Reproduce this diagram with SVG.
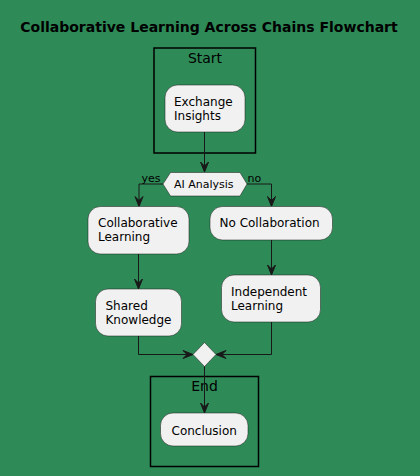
<svg xmlns="http://www.w3.org/2000/svg" width="420" height="476" viewBox="0 0 420 476">
<style>
  .node { fill: #F1F1F1; stroke: #181818; stroke-width: 0.5; }
  .part { fill: none; stroke: #000000; stroke-width: 1.5; }
  .t { font-family: "DejaVu Sans", sans-serif; font-size: 12px; fill: #000000; }
  .pl { font-family: "DejaVu Sans", sans-serif; font-size: 14px; fill: #000000; text-anchor: middle; }
  .s { font-family: "DejaVu Sans", sans-serif; font-size: 11px; fill: #000000; }
  .line { fill: none; stroke: #181818; stroke-width: 1; }
  .head { fill: #181818; stroke: #181818; stroke-width: 1; }
</style>
<rect x="0" y="0" width="420" height="476" fill="#2E8B57"/>
<text x="209" y="32" font-family="DejaVu Sans, sans-serif" font-size="14" font-weight="bold" text-anchor="middle" fill="#000000">Collaborative Learning Across Chains Flowchart</text>

<g id="partition-start">
  <rect class="part" x="154" y="48" width="101.5" height="105"/>
  <text class="pl" x="205" y="63">Start</text>
</g>
<g id="partition-end">
  <rect class="part" x="150.5" y="376.5" width="108" height="90"/>
  <text class="pl" x="204.5" y="391">End</text>
</g>

<g id="connectors">
  <path class="line" d="M204.5,132 V172"/>
  <polygon class="head" points="200.5,162 204.5,172 208.5,162 204.5,166"/>
  <path class="line" d="M163,184 H139 V206.5"/>
  <polygon class="head" points="135,196.5 139,206.5 143,196.5 139,200.5"/>
  <path class="line" d="M247,184 H271.5 V206.5"/>
  <polygon class="head" points="267.5,196.5 271.5,206.5 275.5,196.5 271.5,200.5"/>
  <path class="line" d="M138.5,254 V289"/>
  <polygon class="head" points="134.5,279 138.5,289 142.5,279 138.5,283"/>
  <path class="line" d="M271.5,240 V275"/>
  <polygon class="head" points="267.5,265 271.5,275 275.5,265 271.5,269"/>
  <path class="line" d="M138.5,336 V354.5 H193"/>
  <polygon class="head" points="183,350.5 193,354.5 183,358.5 187,354.5"/>
  <path class="line" d="M271.5,322 V354.5 H216"/>
  <polygon class="head" points="226,350.5 216,354.5 226,358.5 222,354.5"/>
  <path class="line" d="M204.5,366 V413"/>
  <polygon class="head" points="200.5,403 204.5,413 208.5,403 204.5,407"/>
  <text class="s" x="141.5" y="182">yes</text>
  <text class="s" x="247.5" y="182">no</text>
</g>

<g id="exchange-insights">
  <rect class="node" x="165" y="85" width="80" height="47" rx="12.5" ry="12.5"/>
  <text class="t" x="174" y="106">Exchange</text>
  <text class="t" x="174" y="120">Insights</text>
</g>
<g id="ai-analysis">
  <polygon class="node" points="163,184 170.5,172.5 240,172.5 247,184 240,196 170.5,196"/>
  <text class="s" x="174" y="188">AI Analysis</text>
</g>
<g id="collaborative-learning">
  <rect class="node" x="88" y="206.5" width="101" height="47.5" rx="12.5" ry="12.5"/>
  <text class="t" x="98" y="227">Collaborative</text>
  <text class="t" x="98" y="241">Learning</text>
</g>
<g id="no-collaboration">
  <rect class="node" x="210" y="206.5" width="122.5" height="33.5" rx="12.5" ry="12.5"/>
  <text class="t" x="219.5" y="227">No Collaboration</text>
</g>
<g id="shared-knowledge">
  <rect class="node" x="95.5" y="289" width="86" height="47" rx="12.5" ry="12.5"/>
  <text class="t" x="105.5" y="309.5">Shared</text>
  <text class="t" x="105.5" y="323.5">Knowledge</text>
</g>
<g id="independent-learning">
  <rect class="node" x="221.5" y="275" width="99" height="47" rx="12.5" ry="12.5"/>
  <text class="t" x="231" y="296">Independent</text>
  <text class="t" x="231" y="310">Learning</text>
</g>
<g id="merge">
  <polygon class="node" points="204.5,342.5 216,354.5 204.5,366.5 193,354.5"/>
</g>
<g id="conclusion">
  <rect class="node" x="160.5" y="413" width="87.5" height="33" rx="12.5" ry="12.5"/>
  <text class="t" x="171.5" y="434.5">Conclusion</text>
</g>
</svg>
